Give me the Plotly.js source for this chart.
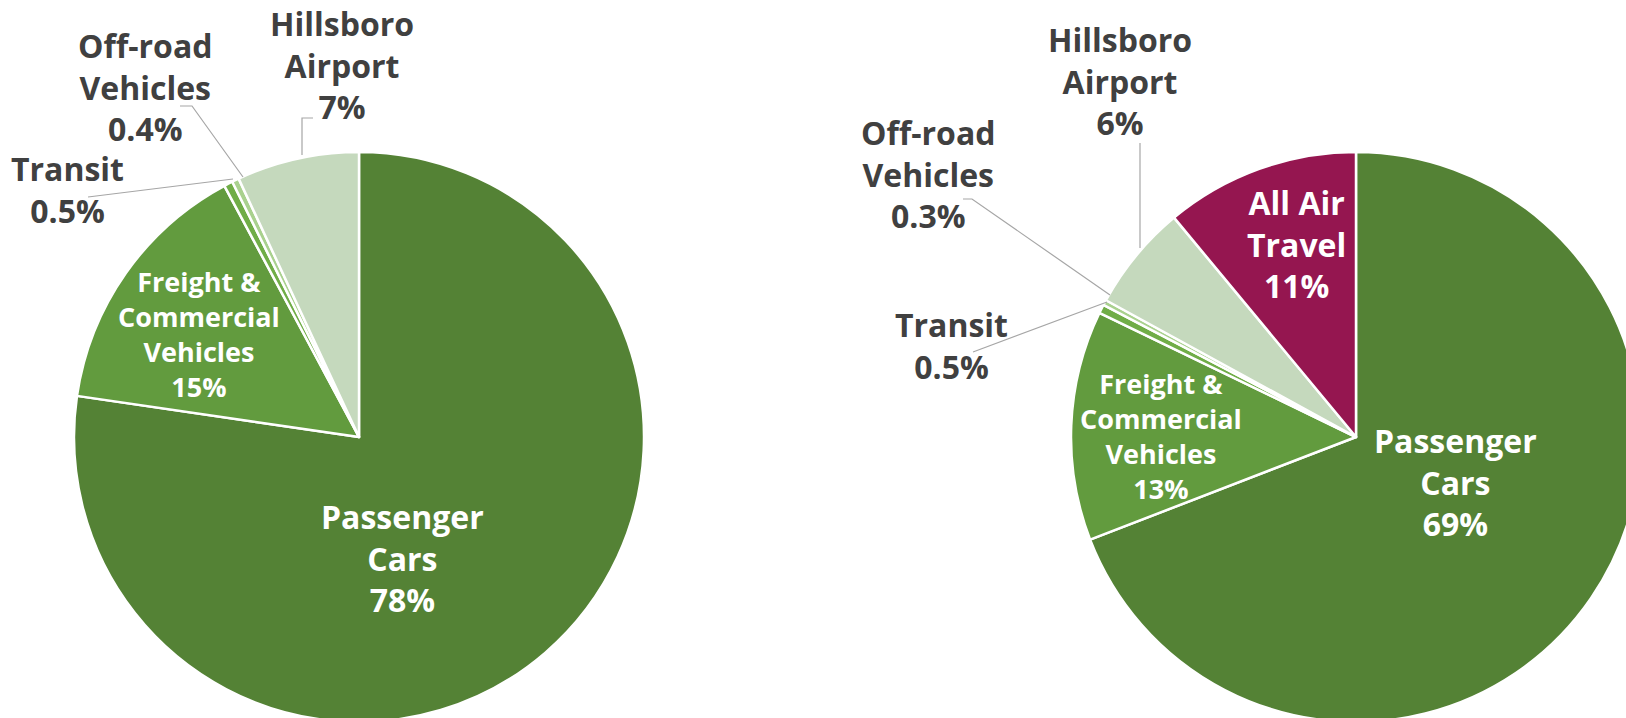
<!DOCTYPE html>
<html>
<head>
<meta charset="utf-8">
<script src="https://cdn.plot.ly/plotly-3.0.1.min.js"></script>
<style>
html,body{margin:0;padding:0;width:1626px;height:718px;overflow:hidden;background:#fff;}
#chart{width:1650px;height:730px;}
</style>
</head>
<body>
<div id="chart"></div>
<script>
// ---- Data ----
const leftCategories = ['Passenger<br>Cars', 'Freight &<br>Commercial<br>Vehicles', 'Transit', 'Off-road<br>Vehicles', 'Hillsboro<br>Airport'];
const leftValues = [78, 15, 0.5, 0.4, 7];
const rightCategories = ['Passenger<br>Cars', 'Freight &<br>Commercial<br>Vehicles', 'Transit', 'Off-road<br>Vehicles', 'Hillsboro<br>Airport', 'All Air<br>Travel'];
const rightValues = [69, 13, 0.5, 0.3, 6, 11];
const leftColors = ['#548235', '#629B3E', '#70AD47', '#A9D18E', '#C5D9BD'];
const rightColors = ['#548235', '#629B3E', '#70AD47', '#A9D18E', '#C5D9BD', '#951650'];

// ---- Layout helpers ----
const W = 1650, H = 730;
const X = px => px / W;
const Y = py => 1 - py / H;

function pieTrace(labels, values, colors, cx, cy, r) {
  return {
    type: 'pie',
    labels: labels.map(l => l.replace(/<br>/g, ' ')),
    values: values,
    sort: false,
    direction: 'clockwise',
    rotation: 0,
    textinfo: 'none',
    hoverinfo: 'none',
    showlegend: false,
    marker: {colors: colors, line: {color: '#ffffff', width: 2.5}},
    domain: {x: [X(cx - r), X(cx + r)], y: [Y(cy + r), Y(cy - r)]}
  };
}

const data = [
  pieTrace(leftCategories, leftValues, leftColors, 359, 437, 285),
  pieTrace(rightCategories, rightValues, rightColors, 1356, 437, 285)
];

// label placement: [pie, index, x px, y px, inside?, size]
const labelPlacement = [
  ['L', 0, 402, 558, true, 32],
  ['L', 1, 199, 334, true, 27],
  ['L', 2, 67, 190, false, 32],
  ['L', 3, 145, 87, false, 32],
  ['L', 4, 342, 65, false, 32],
  ['R', 0, 1455, 482, true, 32],
  ['R', 1, 1161, 436, true, 27],
  ['R', 2, 951, 345, false, 32],
  ['R', 3, 928, 174, false, 32],
  ['R', 4, 1120, 81, false, 32],
  ['R', 5, 1296, 244, true, 32]
];

function fmt(v) { return v + '%'; }

const annotations = labelPlacement.map(p => {
  const cats = p[0] === 'L' ? leftCategories : rightCategories;
  const vals = p[0] === 'L' ? leftValues : rightValues;
  return {
    xref: 'paper', yref: 'paper',
    x: X(p[2]), y: Y(p[3]),
    xanchor: 'center', yanchor: 'middle',
    text: '<b>' + cats[p[1]] + '<br>' + fmt(vals[p[1]]) + '</b>',
    showarrow: false,
    align: 'center',
    font: {family: 'Open Sans, sans-serif', size: p[5], color: p[4] ? '#ffffff' : '#404040'}
  };
});

// leader lines (pixel polylines)
const leaders = [
  [[313, 118], [302, 118], [302, 155]],
  [[180, 106], [192, 106], [243, 177]],
  [[88, 197], [233, 179]],
  [[1140, 143], [1140, 248]],
  [[963, 199], [972, 199], [1110, 295]],
  [[973, 352], [1107, 302]]
];
const shapes = leaders.map(pts => ({
  type: 'path', xref: 'paper', yref: 'paper',
  path: pts.map((q, i) => (i ? 'L' : 'M') + X(q[0]) + ',' + Y(q[1])).join(' '),
  line: {color: '#A6A6A6', width: 1.2}
}));

const layout = {
  width: W, height: H,
  margin: {l: 0, r: 0, t: 0, b: 0},
  paper_bgcolor: '#ffffff',
  plot_bgcolor: '#ffffff',
  showlegend: false,
  annotations: annotations,
  shapes: shapes
};

Plotly.newPlot('chart', data, layout, {displayModeBar: false, staticPlot: true});
</script>
</body>
</html>
